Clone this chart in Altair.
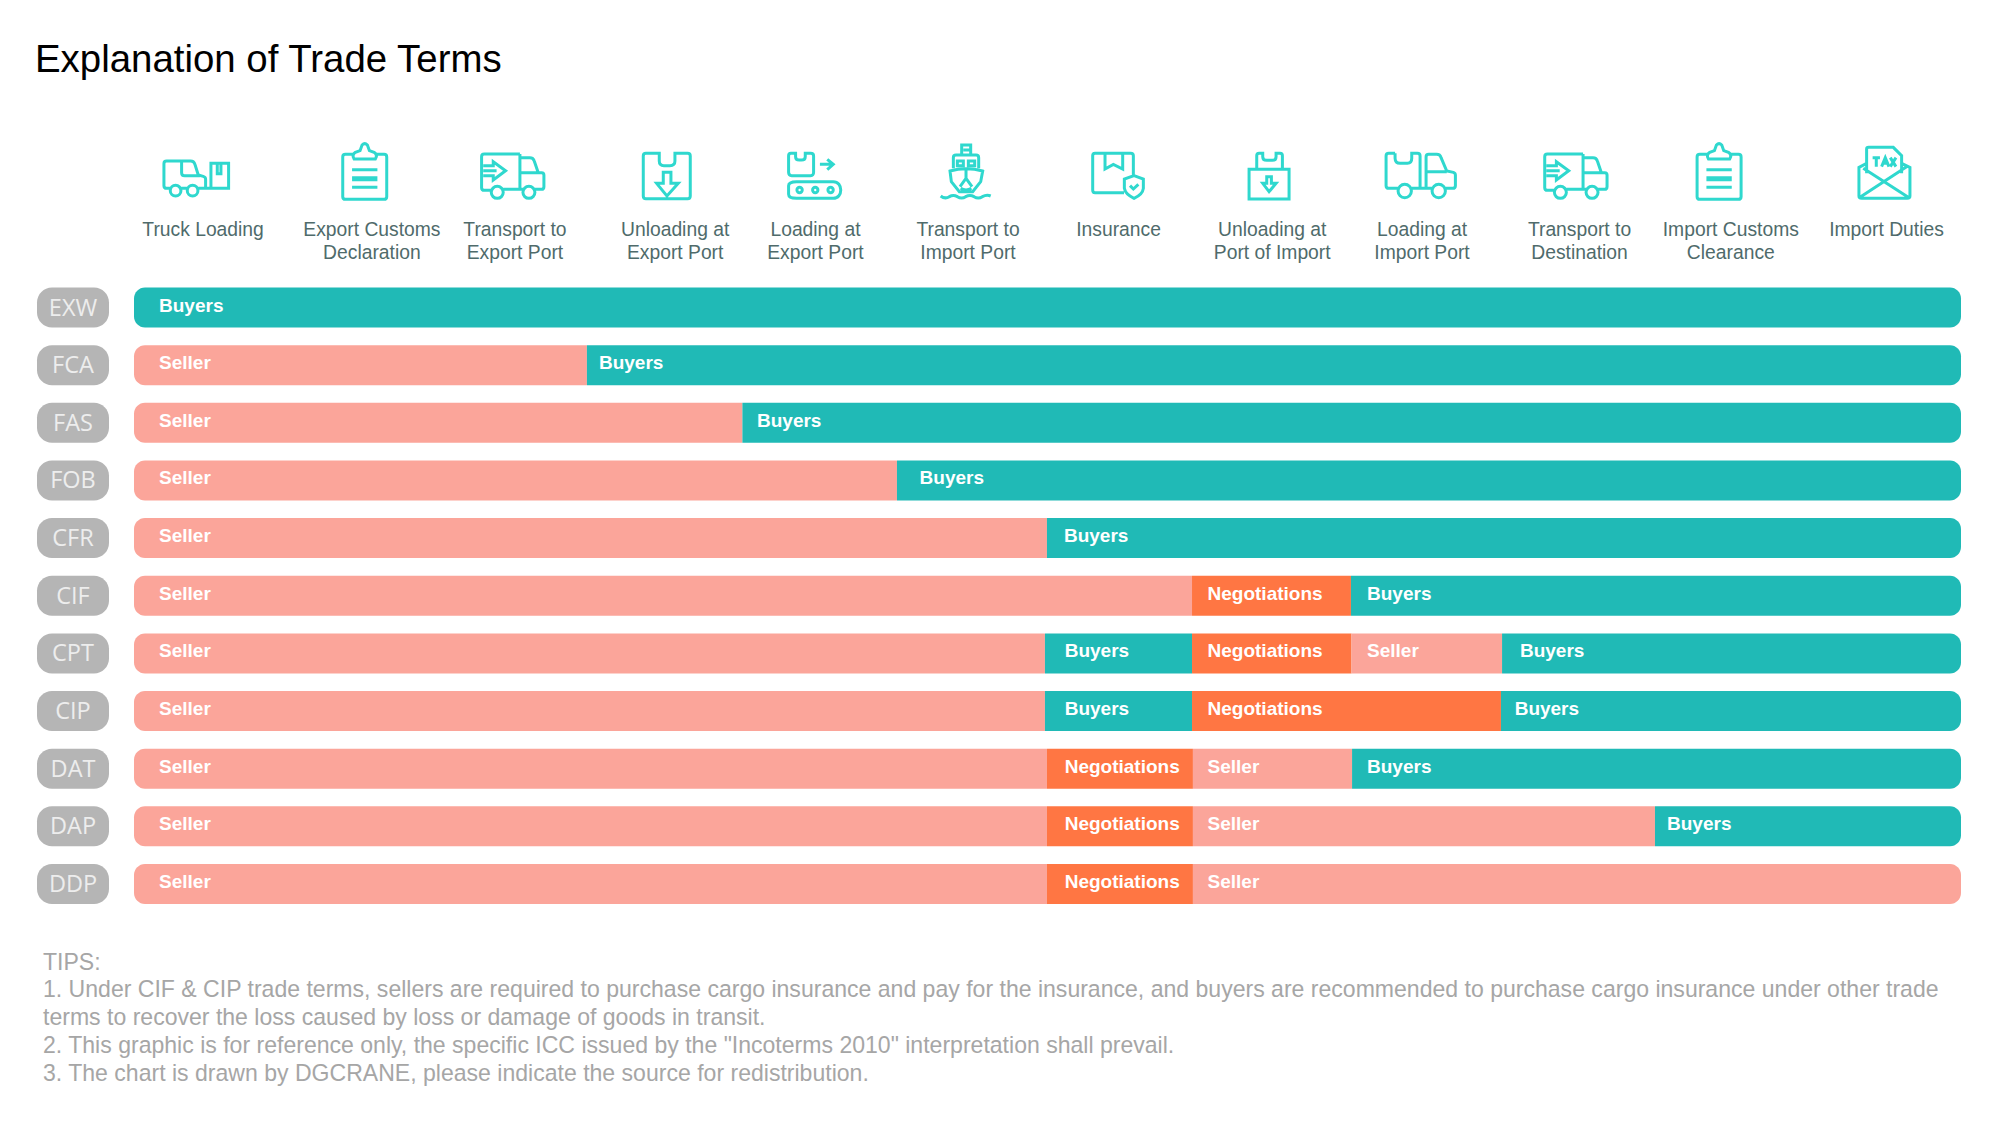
import re
import altair as alt
import pandas as pd

# ---------------- data ----------------
TITLE = "Explanation of Trade Terms"
terms = ["EXW", "FCA", "FAS", "FOB", "CFR", "CIF", "CPT", "CIP", "DAT", "DAP", "DDP"]

# responsible party for each stretch of the trade chain
parties = [
    ["Buyers"],
    ["Seller", "Buyers"],
    ["Seller", "Buyers"],
    ["Seller", "Buyers"],
    ["Seller", "Buyers"],
    ["Seller", "Negotiations", "Buyers"],
    ["Seller", "Buyers", "Negotiations", "Seller", "Buyers"],
    ["Seller", "Buyers", "Negotiations", "Buyers"],
    ["Seller", "Negotiations", "Seller", "Buyers"],
    ["Seller", "Negotiations", "Seller", "Buyers"],
    ["Seller", "Negotiations", "Seller"],
]
# where each stretch ends, % of the chain
stretch_end = [
    [100],
    [24.79, 100],
    [33.30, 100],
    [41.76, 100],
    [49.97, 100],
    [57.91, 66.61, 100],
    [49.86, 57.91, 66.64, 74.88, 100],
    [49.86, 57.91, 74.82, 100],
    [49.97, 57.96, 66.67, 100],
    [49.97, 57.96, 83.25, 100],
    [49.97, 57.96, 100],
]
# where each stretch's label starts, % of the chain
label_start = [
    [1.37],
    [1.37, 25.45],
    [1.37, 34.10],
    [1.37, 43.00],
    [1.37, 50.90],
    [1.37, 58.76, 67.49],
    [1.37, 50.94, 58.76, 67.49, 75.86],
    [1.37, 50.94, 58.76, 75.57],
    [1.37, 50.94, 58.76, 67.49],
    [1.37, 50.94, 58.76, 83.91],
    [1.37, 50.94, 58.76],
]

stages = [
    "Truck Loading", "Export Customs\nDeclaration", "Transport to\nExport Port",
    "Unloading at\nExport Port", "Loading at\nExport Port", "Transport to\nImport Port",
    "Insurance", "Unloading at\nPort of Import", "Loading at\nImport Port",
    "Transport to\nDestination", "Import Customs\nClearance", "Import Duties",
]
stage_label_pos = [3.78, 13.02, 20.85, 29.62, 37.30, 45.65, 53.89, 62.30, 70.50, 79.12, 87.40, 95.92]
stage_icon_pos = [3.39, 12.62, 20.74, 29.17, 37.27, 45.54, 53.86, 62.10, 70.42, 78.93, 86.75, 95.81]

tips = [
    "TIPS:",
    "1. Under CIF & CIP trade terms, sellers are required to purchase cargo insurance and pay for the insurance, and buyers are recommended to purchase cargo insurance under other trade",
    "terms to recover the loss caused by loss or damage of goods in transit.",
    '2. This graphic is for reference only, the specific ICC issued by the "Incoterms 2010" interpretation shall prevail.',
    "3. The chart is drawn by DGCRANE, please indicate the source for redistribution.",
]

# ---------------- icon outlines ----------------
def circle(cx, cy, r):
    k = 0.5523 * r
    return (f"M{cx-r} {cy}C{cx-r} {cy-k} {cx-k} {cy-r} {cx} {cy-r}"
            f"C{cx+k} {cy-r} {cx+r} {cy-k} {cx+r} {cy}"
            f"C{cx+r} {cy+k} {cx+k} {cy+r} {cx} {cy+r}"
            f"C{cx-k} {cy+r} {cx-r} {cy+k} {cx-r} {cy}Z")

def centred(path, cx, cy=108):
    out = []
    for cmd, args in re.findall(r"([MLHVCQZ])([^MLHVCQZ]*)", path):
        nums = [float(n) for n in args.split()]
        if cmd == "H":
            nums = [n - cx for n in nums]
        elif cmd == "V":
            nums = [n - cy for n in nums]
        else:
            nums = [n - (cx if i % 2 == 0 else cy) for i, n in enumerate(nums)]
        out.append(cmd + " ".join(f"{n:.2f}" for n in nums))
    return "".join(out)

TRUCK = ("M95 78H50Q42 78 42 86V152Q42 160 50 160H60M94 160H111M145 160H183"
         "M95 78H122Q132 78 135 88L145 120L160 124Q167 126 167 133V160"
         "M95 78V113Q95 122 104 122H150"
         "M183 85H236V160H183ZM202 87V116H213V87" + circle(77, 167, 16) + circle(128, 167, 16))
CLIP = ("M608 58H586Q578 58 578 66V185Q578 193 586 193H702Q710 193 710 185V66Q710 58 702 58H680"
        "M612 72H676Q684 60 672 52L658 47L652 30Q644 22 636 30L630 47L616 52Q604 60 612 72Z"
        "M606 104H682M606 128H682M606 134H682M606 157H682")
VAN = ("M1110 57H1003Q995 57 995 65V158Q995 166 1003 166H1024M1060 163H1119M1110 57V163"
       "M1000 92H1030V80L1067 107L1030 135V122H1000M1000 107H1040"
       "M1110 68H1140Q1150 68 1153 78L1165 113H1110M1165 113H1175Q1182 113 1182 120V155Q1182 163 1175 163H1155"
       + circle(1042, 172, 18) + circle(1137, 172, 18))
UNLOAD = ("M118 55H78Q70 55 70 63V183Q70 191 78 191H203Q211 191 211 183V63Q211 55 203 55H165V78"
          "Q165 92 150 92H132Q118 92 118 78Z"
          "M130 112H153V145H175L141 183L110 145H130Z")
CONVEY = ("M527 55H513Q506 55 506 63V112Q506 122 515 122H572Q581 122 581 112V63Q581 55 572 55H556V65"
          "Q556 75 545 75H538Q527 75 527 65Z"
          "M600 88H640M622 73L640 88L622 104"
          "M530 140H640C670 140 670 190 640 190H530Q506 190 506 178V152Q506 140 530 140Z"
          + circle(539, 165, 8) + circle(586, 165, 8) + circle(632, 165, 8))
SHIP = ("M1025 60V30H1052V60M1030 45H1048"
        "M1000 100V68Q1000 60 1008 60H1068Q1076 60 1076 68V100"
        "M1012 78H1030V92H1012ZM1045 78H1064V92H1045Z"
        "M990 108Q1038 95 1088 108L1082 140L1058 170H1018L994 140Z"
        "M1038 100V130L1020 155M1038 130L1056 155M1022 160Q1038 170 1054 160"
        "M962 183Q975 193 988 185Q1000 178 1012 185Q1025 193 1037 185Q1050 178 1062 185"
        "Q1075 193 1087 185Q1100 178 1112 183")
INSURE = ("M190 120V62Q190 55 182 55H75Q68 55 68 62V165Q68 173 75 173H162"
          "M105 57V102L130 88L158 102V57"
          "M192 122L220 132V160Q218 178 192 190Q166 178 163 160V132Z"
          "M180 152L190 162L205 148")
PORT = ("M560 103V62Q560 55 567 55H578V65Q578 76 590 76H607Q618 76 618 65V55H630Q637 55 637 62V103"
        "M537 103H657V192H537Z"
        "M590 125H604V145H618L597 170L578 145H590Z")
TRUCK2 = ("M975 55H956Q948 55 948 63V152Q948 160 956 160H985M975 55V70Q975 85 990 85H1012"
          "Q1025 85 1025 70V55H1042Q1050 55 1050 63V160M1022 160H1088"
          "M1068 160V66Q1068 58 1076 58H1100Q1110 58 1113 68L1130 108L1150 112Q1156 114 1156 120V152"
          "Q1156 160 1148 160H1126M1068 110H1130" + circle(1004, 168, 20) + circle(1106, 168, 20))
TAX = ("M1040 85L1017 97V183Q1017 190 1025 190H1162Q1170 190 1170 183V97L1145 85"
       "M1040 115V42Q1040 37 1046 37H1120L1145 62V115"
       "M1030 100L1165 187M1160 95L1020 187"
       "M1058 68H1080M1069 68V95M1085 95L1096 68L1107 95M1090 85H1102M1111 68L1128 95M1128 68L1111 95")

icons = [
    centred(TRUCK, 138), centred(CLIP, 643.5), centred(VAN, 1089), centred(UNLOAD, 141),
    centred(CONVEY, 585), centred(SHIP, 1038), centred(INSURE, 144), centred(PORT, 595.5),
    centred(TRUCK2, 1051.5), centred(VAN, 1089), centred(CLIP, 643.5), centred(TAX, 1093.5),
]

# ---------------- tables ----------------
rows = []
for term, who, ends, starts in zip(terms, parties, stretch_end, label_start):
    begin = 0
    for i, (p, e, s) in enumerate(zip(who, ends, starts)):
        only = len(who) == 1
        part = "only" if only else "first" if i == 0 else "last" if i == len(who) - 1 else "mid"
        rows.append({"term": term, "party": p, "start": begin, "end": e, "label": s, "part": part})
        begin = e
seg = pd.DataFrame(rows)

xs = alt.Scale(domain=[0, 100], range=[126, 1953])
ys = alt.Scale(domain=terms, range=[270.7, 904.8], paddingInner=0.306, paddingOuter=0.153)
x_bar = alt.X("start:Q", scale=xs, axis=None)
y_row = alt.Y("term:N", scale=ys, axis=None)
col = alt.Color("party:N", legend=None,
                scale=alt.Scale(domain=["Seller", "Buyers", "Negotiations"],
                                range=["#FBA59A", "#20BAB6", "#FF7643"]))

R = 11
corners = {
    "only": dict(cornerRadius=R),
    "first": dict(cornerRadiusTopLeft=R, cornerRadiusBottomLeft=R),
    "mid": dict(),
    "last": dict(cornerRadiusTopRight=R, cornerRadiusBottomRight=R),
}
layers = []
for part, opts in corners.items():
    layers.append(
        alt.Chart(seg[seg.part == part]).mark_bar(**opts).encode(
            x=x_bar, x2="end:Q", y=y_row, color=col)
    )

layers.append(
    alt.Chart(seg).mark_text(align="left", baseline="middle", dy=-2, font="Liberation Sans",
                             fontWeight="bold", fontSize=19, color="white").encode(
        x=alt.X("label:Q", scale=xs, axis=None), y=y_row, text="party:N")
)

term_df = pd.DataFrame({"term": terms})
layers.append(
    alt.Chart(term_df).mark_bar(cornerRadius=15, color="#B5B5B5").encode(
        x=alt.value(29), x2=alt.value(101), y=y_row)
)
layers.append(
    alt.Chart(term_df).mark_text(align="center", baseline="middle", dy=1,
                                 font="Open Sans", fontSize=23.5, color="#EDEDED").encode(
        x=alt.value(65), y=y_row, text="term:N")
)

stage_df = pd.DataFrame({"stage": stages, "pos": stage_label_pos})
layers.append(
    alt.Chart(stage_df).mark_text(align="center", baseline="alphabetic", lineBreak="\n", lineHeight=23,
                                  font="Liberation Sans", fontSize=19.3, color="#4F6B6B").encode(
        x=alt.X("pos:Q", scale=xs, axis=None), y=alt.value(228), text="stage:N")
)

for path, pos in zip(icons, stage_icon_pos):
    layers.append(
        alt.Chart(pd.DataFrame({"pos": [pos]})).mark_point(
            shape=path, size=0.4444, filled=False, stroke="#2FD8CE", strokeWidth=3, opacity=1).encode(
            x=alt.X("pos:Q", scale=xs, axis=None), y=alt.value(163))
    )

layers.append(
    alt.Chart(pd.DataFrame({"t": [TITLE]})).mark_text(
        align="left", baseline="alphabetic", font="Liberation Sans", fontSize=38.4, color="#000000").encode(
        x=alt.value(27), y=alt.value(63.5), text="t:N")
)
for i, line in enumerate(tips):
    layers.append(
        alt.Chart(pd.DataFrame({"t": [line]})).mark_text(
            align="left", baseline="alphabetic", font="Liberation Sans", fontSize=23.05, color="#A6A6A6").encode(
            x=alt.value(35), y=alt.value(961.5 + 27.8 * i), text="t:N")
    )

chart = alt.layer(*layers).properties(
    width=1984, height=1131, padding=0, autosize=alt.AutoSizeParams(type="none"),
    background="white",
).configure_view(stroke=None)

chart.save("out.html", embed_options={"renderer": "svg", "actions": False})
